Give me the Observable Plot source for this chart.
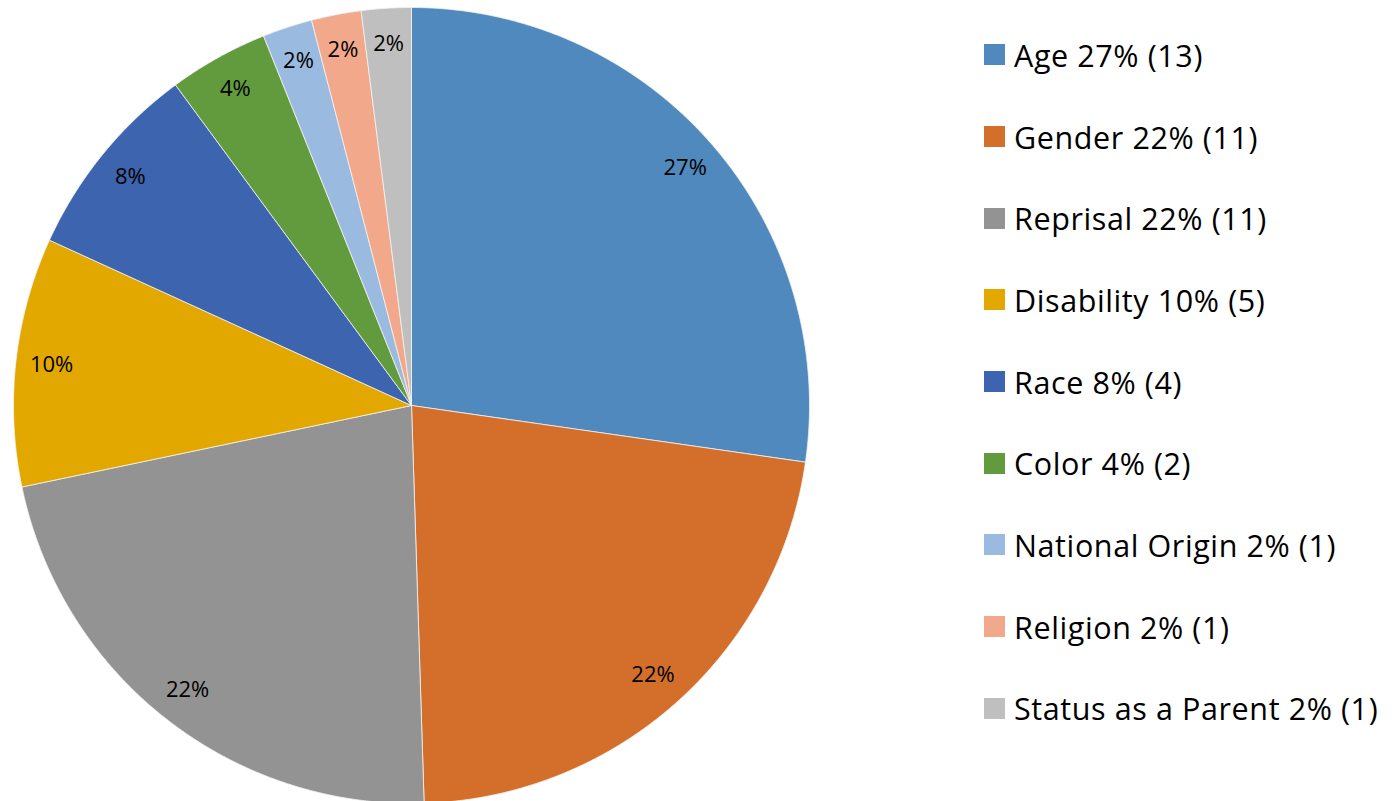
<!DOCTYPE html>
<html>
<head>
<meta charset="utf-8">
<script src="https://cdn.jsdelivr.net/npm/d3@7"></script>
<script src="https://cdn.jsdelivr.net/npm/@observablehq/plot@0.6"></script>
<style>
  html, body { margin: 0; padding: 0; background: #fff; }
  #wrap { position: relative; width: 1397px; height: 801px; overflow: hidden; font-family: "Open Sans", Lato, sans-serif; }
  #chart { position: absolute; left: 0; top: 0; }
  #legend { position: absolute; left: 984px; top: 14px; }
  .item { display: flex; align-items: center; height: 81.7px; font-size: 30.5px; letter-spacing: 0.6px; color: #000; white-space: nowrap; }
  .sw { width: 21px; height: 21px; margin-right: 9px; flex: none; }
</style>
</head>
<body>
<div id="wrap"><div id="chart"></div><div id="legend"></div></div>
<script>
const categories = ["Age", "Gender", "Reprisal", "Disability", "Race", "Color", "National Origin", "Religion", "Status as a Parent"];
const counts = [13, 11, 11, 5, 4, 2, 1, 1, 1];
const percents = [27, 22, 22, 10, 8, 4, 2, 2, 2];
const colors = ["#4F89BD", "#D36F2A", "#939393", "#E2A800", "#3D64AE", "#629B3E", "#9BBAE0", "#F2A98B", "#BFBFBF"];

const rows = categories.map((c, i) => ({category: c, count: counts[i], pct: percents[i], label: percents[i] + "%"}));
const arcs = d3.pie().value(d => d.pct).sort(null)(rows);

// Slice outlines on the unit circle, clockwise from 12 o'clock
const slicePts = [];
for (const a of arcs) {
  const n = Math.max(2, Math.ceil((a.endAngle - a.startAngle) / 0.005));
  slicePts.push({category: a.data.category, x: 0, y: 0});
  for (let k = 0; k <= n; k++) {
    const t = a.startAngle + (a.endAngle - a.startAngle) * k / n;
    slicePts.push({category: a.data.category, x: Math.sin(t), y: Math.cos(t)});
  }
  slicePts.push({category: a.data.category, x: 0, y: 0});
}
const labelPts = arcs.map(a => {
  const m = (a.startAngle + a.endAngle) / 2;
  const r = 0.91;
  return {label: a.data.label, x: r * Math.sin(m), y: r * Math.cos(m)};
});

const plot = Plot.plot({
  width: 830,
  height: 801,
  margin: 0,
  x: {domain: [-1, 1], range: [13, 809], axis: null},
  y: {domain: [-1, 1], range: [803, 7], axis: null},
  color: {domain: categories, range: colors},
  style: {fontFamily: "'Open Sans', Lato, sans-serif", background: "#fff"},
  marks: [
    Plot.line(slicePts, {x: "x", y: "y", z: "category", fill: "category", stroke: "#f2f2f2", strokeWidth: 0.8, curve: "linear"}),
    Plot.text(labelPts, {x: "x", y: "y", text: "label", fontSize: 22, fill: "#000"})
  ]
});
document.getElementById("chart").appendChild(plot);

const legend = document.getElementById("legend");
rows.forEach((r, i) => {
  const it = document.createElement("div");
  it.className = "item";
  const sw = document.createElement("span");
  sw.className = "sw";
  sw.style.background = colors[i];
  const tx = document.createElement("span");
  tx.textContent = `${r.category} ${r.label} (${r.count})`;
  it.appendChild(sw); it.appendChild(tx);
  legend.appendChild(it);
});
</script>
</body>
</html>
